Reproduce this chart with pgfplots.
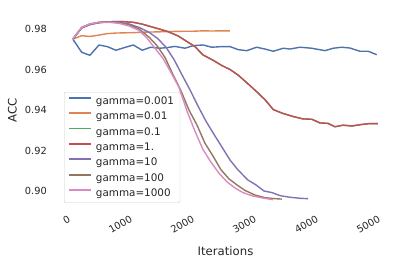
\documentclass[border=0pt]{standalone}
\usepackage{pgfplots}
\pgfplotsset{compat=1.18}
\usepackage{fontspec}
\setmainfont{DejaVu Sans}
\definecolor{c0}{HTML}{4C72B0}
\definecolor{c1}{HTML}{DD8452}
\definecolor{c2}{HTML}{55A868}
\definecolor{c3}{HTML}{C44E52}
\definecolor{c4}{HTML}{8172B3}
\definecolor{c5}{HTML}{937860}
\definecolor{c6}{HTML}{DA8BC3}
\definecolor{tc}{HTML}{262626}
\definecolor{lg}{HTML}{CCCCCC}
\newcommand{\legfont}{\fontsize{10.4}{12.5}\selectfont}
\begin{document}
\begin{tikzpicture}
\useasboundingbox (0,0) rectangle (406pt,265pt);
\begin{axis}[
  scale only axis, width=335.6pt, height=196pt,
  at={(57.7pt,56.4pt)}, anchor=south west,
  xmin=-214, xmax=5199, ymin=0.8913, ymax=0.9881,
  axis line style={draw=none}, major tick length=0pt,
  xtick={0,1000,2000,3000,4000,5000},
  ytick={0.90,0.92,0.94,0.96,0.98},
  scaled x ticks=false, scaled y ticks=false,
  /pgf/number format/assume math mode=true,
  xticklabel style={/pgf/number format/1000 sep={}, font=\fontsize{9.8}{11}\selectfont, text=tc, inner sep=0pt, xshift=-3.6pt, yshift=-6pt, rotate=30, anchor=north east},
  yticklabel style={/pgf/number format/fixed, /pgf/number format/fixed zerofill, /pgf/number format/precision=2, font=\fontsize{9.8}{11}\selectfont, text=tc, inner sep=0pt, xshift=-10.7pt, anchor=east},
  xlabel={Iterations},
  xlabel style={at={(axis description cs:0.5,-0.216)}, anchor=center, font=\fontsize{11.7}{14}\selectfont, text=tc},
  ylabel={ACC},
  ylabel style={at={(axis description cs:-0.1353,0.503)}, anchor=center, font=\fontsize{11.7}{14}\selectfont, text=tc},
  legend cell align=left,
  legend image code/.code={\draw[#1, line width=1.7pt] (0pt,3.5pt) -- (22pt,3.5pt);},
  legend style={at={(0.0188,0.0286)}, anchor=south west, draw=lg, rounded corners=2pt, fill=white, fill opacity=0.8, text opacity=1, text=tc, font=\legfont, inner xsep=4pt, inner ysep=2.5pt, row sep=2.2pt, column sep=2pt},
  every axis plot/.append style={line width=1.4pt, line join=round},
]
\addplot[c0] coordinates {
(32,0.9749) (173,0.9685) (306,0.9670) (452,0.9721) (585,0.9713) (726,0.9695) (860,0.9708) (1005,0.9721) (1150,0.9695) (1285,0.9710) (1424,0.9705) (1548,0.9708) (1677,0.9714) (1839,0.9705) (1973,0.9718) (2134,0.9721) (2269,0.9710) (2431,0.9713) (2565,0.9713) (2698,0.9698) (2834,0.9693) (2995,0.9710) (3129,0.9701) (3263,0.9690) (3424,0.9705) (3532,0.9701) (3694,0.9710) (3882,0.9705) (4097,0.9693) (4231,0.9705) (4366,0.9710) (4500,0.9706) (4661,0.9690) (4795,0.9690) (4931,0.9673)
};
\addlegendentry{\legfont gamma=0.001}
\addplot[c1] coordinates {
(32,0.9750) (173,0.9767) (306,0.9763) (452,0.9770) (585,0.9777) (726,0.9780) (860,0.9781) (1005,0.9782) (1150,0.9784) (1285,0.9785) (1424,0.9786) (1548,0.9787) (1677,0.9788) (1839,0.9789) (1973,0.9789) (2134,0.9791) (2269,0.9790) (2431,0.9791) (2565,0.9791)
};
\addlegendentry{\legfont gamma=0.01}
\addplot[c2] coordinates {
(32,0.9750) (173,0.9806) (306,0.9823) (452,0.9831) (585,0.9835) (726,0.9837) (860,0.9836) (1005,0.9833) (1150,0.9824) (1285,0.9812) (1424,0.9800) (1565,0.9787) (1726,0.9766) (1871,0.9738) (2000,0.9713) (2129,0.9672) (2290,0.9646) (2431,0.9620) (2565,0.9600) (2698,0.9572) (2860,0.9528) (3000,0.9489) (3129,0.9451) (3263,0.9402) (3419,0.9383) (3581,0.9368) (3742,0.9356) (3887,0.9354) (4016,0.9336) (4145,0.9334) (4258,0.9317) (4387,0.9325) (4532,0.9321) (4677,0.9328) (4823,0.9333) (4952,0.9333)
};
\addlegendentry{\legfont gamma=0.1}
\addplot[c3] coordinates {
(32,0.9750) (173,0.9806) (306,0.9823) (452,0.9831) (585,0.9835) (726,0.9837) (860,0.9836) (1005,0.9833) (1150,0.9824) (1285,0.9812) (1424,0.9800) (1565,0.9787) (1726,0.9766) (1871,0.9738) (2000,0.9713) (2129,0.9672) (2290,0.9646) (2431,0.9620) (2565,0.9600) (2698,0.9572) (2860,0.9528) (3000,0.9489) (3129,0.9451) (3263,0.9402) (3419,0.9383) (3581,0.9368) (3742,0.9356) (3887,0.9354) (4016,0.9336) (4145,0.9334) (4258,0.9317) (4387,0.9325) (4532,0.9321) (4677,0.9328) (4823,0.9333) (4952,0.9333)
};
\addlegendentry{\legfont gamma=1.}
\addplot[c4] coordinates {
(32,0.9751) (173,0.9805) (306,0.9821) (452,0.9833) (613,0.9836) (774,0.9833) (935,0.9825) (1097,0.9808) (1258,0.9784) (1403,0.9752) (1532,0.9710) (1661,0.9650) (1790,0.9574) (1919,0.9500) (2048,0.9420) (2177,0.9345) (2306,0.9280) (2435,0.9217) (2565,0.9153) (2694,0.9104) (2855,0.9054) (2984,0.9030) (3113,0.9000) (3242,0.8992) (3371,0.8977) (3532,0.8969) (3694,0.8964) (3823,0.8962)
};
\addlegendentry{\legfont gamma=10}
\addplot[c5] coordinates {
(32,0.9751) (173,0.9808) (306,0.9825) (452,0.9833) (613,0.9835) (774,0.9831) (935,0.9821) (1097,0.9800) (1258,0.9760) (1387,0.9718) (1516,0.9660) (1645,0.9575) (1774,0.9495) (1903,0.9400) (2032,0.9326) (2161,0.9236) (2290,0.9173) (2419,0.9105) (2548,0.9060) (2677,0.9030) (2806,0.9003) (2968,0.8980) (3129,0.8967) (3290,0.8962) (3403,0.8960)
};
\addlegendentry{\legfont gamma=100}
\addplot[c6] coordinates {
(32,0.9751) (173,0.9808) (306,0.9825) (452,0.9833) (613,0.9833) (774,0.9828) (935,0.9815) (1097,0.9793) (1226,0.9755) (1355,0.9705) (1484,0.9655) (1613,0.9585) (1742,0.9512) (1871,0.9395) (2000,0.9295) (2129,0.9205) (2258,0.9142) (2387,0.9088) (2516,0.9045) (2645,0.9015) (2774,0.8992) (2935,0.8975) (3097,0.8965) (3258,0.8957)
};
\addlegendentry{\legfont gamma=1000}
\end{axis}
\end{tikzpicture}
\end{document}
